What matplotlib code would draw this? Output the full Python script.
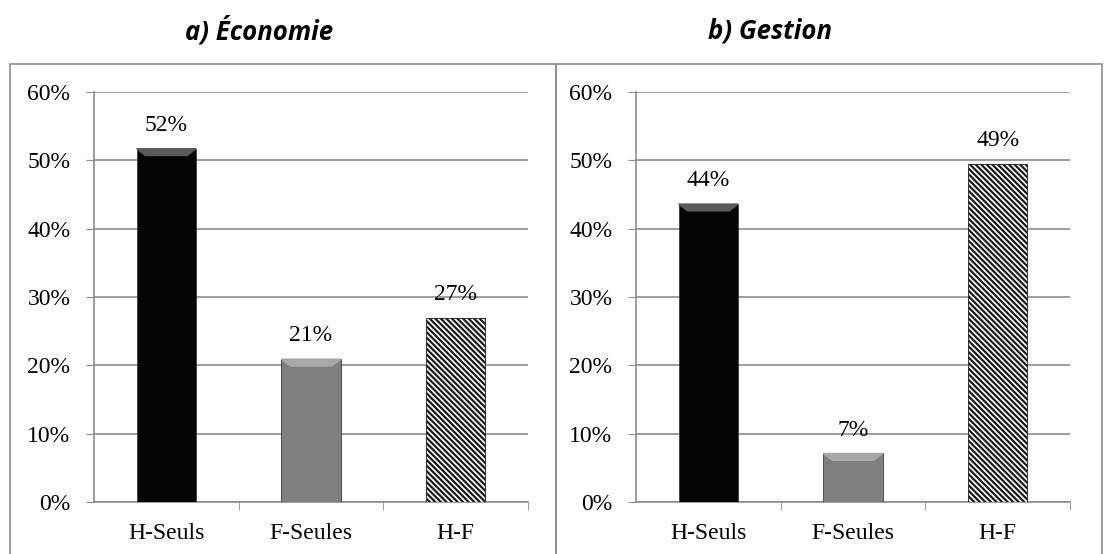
import numpy as np
import matplotlib.pyplot as plt
from matplotlib.patches import Rectangle

categories = ["H-Seuls", "F-Seules", "H-F"]
economie = [51.7, 20.9, 26.9]
gestion = [43.6, 7.1, 49.4]
titles = ["a) Économie", "b) Gestion"]
yticks = [0, 10, 20, 30, 40, 50, 60]

plt.rcParams["font.family"] = ["Liberation Serif", "DejaVu Serif"]
plt.rcParams["hatch.linewidth"] = 1.6

fig = plt.figure(figsize=(11.12, 5.54), dpi=100)

# panel borders
for x0 in [10 / 1112, 556 / 1112]:
    fig.patches.append(Rectangle((x0, -0.01), 546 / 1112, 1 - 64 / 554 + 0.01,
                                 transform=fig.transFigure, fill=False,
                                 edgecolor="#8c8c8c", linewidth=1.2))

grid_col = "#8c8c8c"
fills = ["#050505", "#7f7f7f", "white"]
hatches = [None, None, "\\\\\\\\\\\\"]
fs = 17

for i, (vals, title) in enumerate(zip([economie, gestion], titles)):
    left = [94 / 1112, 636 / 1112][i]
    ax = fig.add_axes([left, 1 - 502 / 554, 434 / 1112, 410 / 554])
    x = np.arange(len(categories))
    bars = ax.bar(x, vals, width=0.41, color=fills, edgecolor="#3a3a3a",
                  linewidth=0.6, zorder=3)
    for b, h in zip(bars, hatches):
        if h:
            b.set_hatch(h)
            b.set_edgecolor("#1a1a1a")
    # bevel highlight on top of solid bars
    for b, v, c in zip(bars, vals, fills):
        if c != "white":
            bx = b.get_x()
            bw = b.get_width()
            ax.fill([bx, bx + bw, bx + bw * 0.85, bx + bw * 0.15],
                    [v, v, v - 1.0, v - 1.0],
                    color="#5a5a5a" if c == "#050505" else "#a8a8a8", zorder=4)
    for xi, v in zip(x, vals):
        ax.text(xi, v + 1.9, f"{round(v):.0f}%", ha="center", va="bottom",
                fontsize=fs)
    ax.set_xlim(-0.5, 2.5)
    ax.set_ylim(0, 60)
    ax.set_yticks(yticks)
    ax.set_yticklabels([f"{t}%" for t in yticks], fontsize=fs)
    ax.set_xticks(x)
    ax.set_xticklabels(categories, fontsize=fs)
    ax.set_xticks([0.5, 1.5, 2.5], minor=True)
    ax.tick_params(axis="x", which="major", length=0, pad=15)
    ax.tick_params(axis="x", which="minor", length=6, color=grid_col)
    ax.tick_params(axis="y", length=6, color=grid_col, pad=11)
    ax.yaxis.grid(True, color=grid_col, linewidth=1.2, zorder=0)
    ax.set_axisbelow(True)
    for s in ["top", "right"]:
        ax.spines[s].set_visible(False)
    for s in ["left", "bottom"]:
        ax.spines[s].set_color(grid_col)
        ax.spines[s].set_linewidth(1.2)
    fig.text([259 / 1112, 770 / 1112][i], 1 - 31 / 554, title, ha="center",
             va="center", fontsize=18.5, fontweight="bold", fontstyle="italic",
             family=["Open Sans", "DejaVu Sans"])

fig.savefig("out.png", dpi=100)
